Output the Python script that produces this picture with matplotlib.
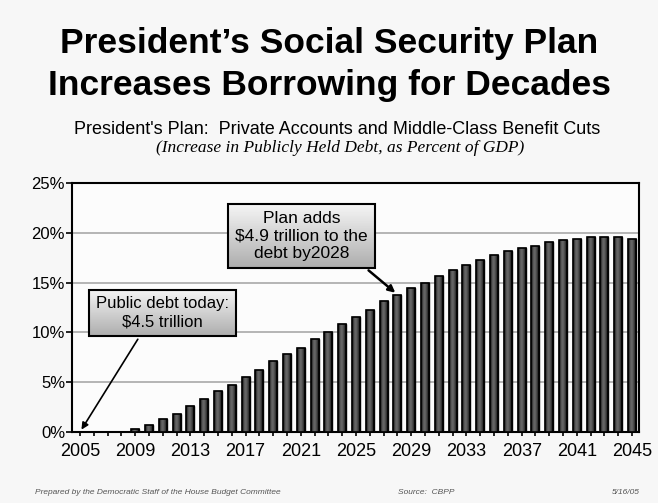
import numpy as np
import matplotlib
matplotlib.use("Agg")
import matplotlib.pyplot as plt

# data (increase in publicly held debt, % of GDP)
years = list(range(2005, 2046))
debt_pct = [0.0, 0.0, 0.0, 0.0, 0.3, 0.73, 1.3, 1.8, 2.57, 3.3,
            4.07, 4.73, 5.5, 6.23, 7.13, 7.87, 8.4, 9.3, 10.0, 10.8,
            11.5, 12.23, 13.17, 13.8, 14.47, 15.0, 15.7, 16.3, 16.8, 17.23,
            17.73, 18.13, 18.47, 18.67, 19.03, 19.23, 19.37, 19.53, 19.57, 19.53,
            19.37]
ytick_vals = [0, 5, 10, 15, 20, 25]
ytick_labels = ["0%", "5%", "10%", "15%", "20%", "25%"]
xtick_years = list(range(2005, 2046, 4))

title1 = "President\u2019s Social Security Plan"
title2 = "Increases Borrowing for Decades"
subtitle = "President's Plan:  Private Accounts and Middle-Class Benefit Cuts"
subtitle2 = "(Increase in Publicly Held Debt, as Percent of GDP)"
note_today = "Public debt today:\n$4.5 trillion"
note_plan = "Plan adds\n$4.9 trillion to the\ndebt by2028"

fig = plt.figure(figsize=(6.58, 5.03), dpi=100, facecolor="#f7f7f7")
ax = fig.add_axes([0.1094, 0.1412, 0.8617, 0.495], facecolor="#fcfcfc")

bars = ax.bar(years, debt_pct, width=0.58, color="#333333",
              edgecolor="black", linewidth=1.0, zorder=3)

# shaded look on the bars
grad = np.array([[0.1, 0.36, 0.42, 0.33, 0.18, 0.06]])
for b in bars:
    if b.get_height() <= 0:
        continue
    x0, y0 = b.get_x(), b.get_y()
    im = ax.imshow(grad, cmap="gray", vmin=0, vmax=1, aspect="auto",
                   extent=[x0, x0 + b.get_width(), y0, y0 + b.get_height()],
                   zorder=3.5, interpolation="bicubic")
    im.set_clip_path(b)
    ax.bar(b.get_x() + b.get_width() / 2, b.get_height(), width=b.get_width(),
           fill=False, edgecolor="black", linewidth=1.2, zorder=4)

ax.set_xlim(2004.42, 2045.5)
ax.set_ylim(0, 25)
ax.set_yticks(ytick_vals)
ax.set_yticklabels(ytick_labels, fontsize=12, fontfamily="Liberation Sans")
ax.set_xticks(xtick_years)
ax.set_xticklabels([str(y) for y in xtick_years], fontsize=13,
                   fontfamily="Liberation Sans")
ax.set_xticks(years, minor=True)
ax.tick_params(axis="x", which="both", length=3, width=1.2, direction="out", pad=5)
ax.tick_params(axis="y", length=4, width=1.2, direction="out", pad=1)
ax.yaxis.grid(True, color="#a8a8a8", linewidth=1.2, zorder=0)
ax.set_axisbelow(True)
for s in ax.spines.values():
    s.set_linewidth(1.5)

box = dict(boxstyle="square,pad=0.4", facecolor="none",
           edgecolor="black", linewidth=1.5)
ann1 = ax.annotate(note_today, xy=(2005, 0), xytext=(2010.98, 11.95),
                   ha="center", va="center", fontsize=12,
                   fontfamily="Liberation Sans", linespacing=1.25,
                   bbox=box, zorder=6,
                   arrowprops=dict(arrowstyle="-|>", color="black", lw=1.2,
                                   mutation_scale=10, relpos=(0.36, 0.0)))
ann2 = ax.annotate(note_plan, xy=(2028, debt_pct[years.index(2028)]),
                   xytext=(2021.05, 19.68),
                   ha="center", va="center", fontsize=12.5,
                   fontfamily="Liberation Sans", linespacing=1.2,
                   bbox=box, zorder=6,
                   arrowprops=dict(arrowstyle="-|>", color="black", lw=1.8,
                                   mutation_scale=10, relpos=(0.92, 0.0)))

# gradient fill behind the note boxes
fig.canvas.draw()
renderer = fig.canvas.get_renderer()
vgrad = np.linspace(0.96, 0.68, 50).reshape(-1, 1)
for ann in (ann1, ann2):
    ext = ann.get_bbox_patch().get_window_extent(renderer)
    (bx0, by0), (bx1, by1) = ax.transData.inverted().transform(
        [[ext.x0, ext.y0], [ext.x1, ext.y1]])
    ax.imshow(vgrad, cmap="gray", vmin=0, vmax=1, aspect="auto",
              extent=[bx0, bx1, by0, by1], zorder=5.5, clip_on=False)
ax.set_xlim(2004.42, 2045.5)
ax.set_ylim(0, 25)

fig.text(0.5, 0.8946, title1, ha="center", va="baseline", fontsize=25.5,
         fontweight="bold", family="Liberation Sans")
fig.text(0.5, 0.8111, title2, ha="center", va="baseline", fontsize=25.5,
         fontweight="bold", family="Liberation Sans")
fig.text(0.512, 0.742, subtitle, ha="center", va="center", fontsize=13,
         family="Liberation Sans")
fig.text(0.517, 0.706, subtitle2, ha="center", va="center", fontsize=12.5,
         style="italic", family="Liberation Serif")

foot = dict(fontsize=6, style="italic", color="#555555", family="Liberation Sans",
            va="center")
fig.text(0.053, 0.02, "Prepared by the Democratic Staff of the House Budget Committee", **foot)
fig.text(0.605, 0.02, "Source:  CBPP", **foot)
fig.text(0.972, 0.02, "5/16/05", ha="right", **foot)

fig.savefig("out.png", dpi=100, facecolor=fig.get_facecolor())
